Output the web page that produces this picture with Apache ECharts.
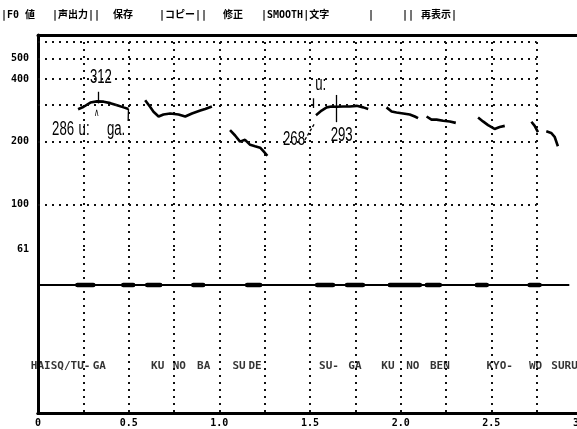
<!DOCTYPE html>
<html><head><meta charset="utf-8">
<script src="https://cdn.jsdelivr.net/npm/echarts@6/dist/echarts.min.js"></script>
<style>html,body{margin:0;padding:0;background:#fff}#c{width:577px;height:429px}</style>
</head><body><div id="c"></div>
<script>
// ---- data ----
const yTickValues = [500, 400, 200, 100, 61];          // F0 axis labels (Hz)
const yGridValues = [600, 500, 400, 300, 200, 100];    // dotted F0 grid rows (Hz)
const xTickValues = [0, 0.5, 1.0, 1.5, 2.0, 2.5, 3.0]; // time labels (s)
const f0Times = [
  [0.221,0.252,0.289,0.325,0.362,0.399,0.436,0.472,0.499],
  [0.591,0.619,0.637,0.665,0.692,0.729,0.775,0.812,0.849,0.895,0.922,0.959],
  [1.059,1.087,1.114,1.142,1.170,1.197,1.225,1.243,1.265],
  [1.533,1.564,1.592,1.619,1.647,1.683,1.720,1.757,1.794,1.821],
  [1.922,1.950,1.977,2.014,2.050,2.078,2.096],
  [2.143,2.170,2.198,2.234,2.271,2.304],
  [2.427,2.454,2.482,2.518,2.546,2.574],
  [2.721,2.739,2.757],
  [2.803,2.830,2.849,2.867]
];
const f0Hz = [
  [286,294,308,312,311,306,299,292,287],
  [316,293,278,264,270,273,270,264,273,282,287,295],
  [227,214,200,204,193,190,187,180,171],
  [268,282,292,295,294,295,295,297,292,287],
  [292,279,276,273,270,264,259],
  [264,255,255,252,250,246],
  [261,250,240,230,235,238],
  [249,238,222],
  [224,220,211,190]
];
const powerSpan = [0.01, 2.93];     // extent of the power trace (s)
const powerLevel = 0.78;            // relative level of the power trace
const powerBursts = [[0.217,0.305],[0.470,0.525],[0.602,0.674],[0.856,0.911],[1.153,1.225],
  [1.539,1.627],[1.704,1.792],[1.940,2.106],[2.144,2.216],[2.420,2.475],[2.711,2.766]];
const syllables = ['HAISQ/TU-','GA','KU','NO','BA','SU','DE','SU-','GA','KU','NO','BEN','KYO-','WO','SURU'];
const syllableTimes = [0.125,0.338,0.660,0.779,0.914,1.109,1.197,1.605,1.748,1.930,2.067,2.216,2.546,2.744,2.904];
const syllableLevel = 0.287;

// ---- build ----
const mono = '"DejaVu Sans Mono", "Noto Sans CJK JP", monospace';
const dotted = {type:[2,5], width:2, color:'#111', opacity:1};

const f0Data = [];
f0Times.forEach((seg, i) => {
  seg.forEach((t, j) => f0Data.push([t, f0Hz[i][j]]));
  f0Data.push([null, null]);
});

const burstData = [];
powerBursts.forEach(b => { burstData.push([b[0], powerLevel]); burstData.push([b[1], powerLevel]); burstData.push([null, null]); });

const annotations = [
  {text:'312', at:[0.325,312], off:[4,-24], size:20},
  {text:'∧',   at:[0.325,312], off:[0,12], size:11},
  {text:'286', at:[0.221,286], off:[-15,20], size:20},
  {text:'u:',  at:[0.221,286], off:[6,20], size:20},
  {text:'ga.', at:[0.221,286], off:[38,20], size:20},
  {text:'u:',  at:[1.592,292], off:[-6,-23], size:20},
  {text:'268', at:[1.533,268], off:[-22,24], size:20},
  {text:'293', at:[1.647,294], off:[5,29], size:20}
];
const strokes = [
  [[0.334,347],[0.334,305]],
  [[1.647,335],[1.647,248]],
  [[1.518,323],[1.518,290]],
  [[0.499,287],[0.497,251]]
];

const chart = echarts.init(document.getElementById('c'));
const axisLineStyle = {color:'#000', width:3};
const menu = [
  {type:'text', left:1, top:10, style:{text:'|F0 値', font:'bold 10px ' + mono, fill:'#000'}},
  {type:'text', left:52, top:10, style:{text:'|声出力||', font:'bold 10px ' + mono, fill:'#000'}},
  {type:'text', left:113, top:10, style:{text:'保存', font:'bold 10px ' + mono, fill:'#000'}},
  {type:'text', left:159, top:10, style:{text:'|コピー||', font:'bold 10px ' + mono, fill:'#000'}},
  {type:'text', left:223, top:10, style:{text:'修正', font:'bold 10px ' + mono, fill:'#000'}},
  {type:'text', left:261, top:10, style:{text:'|SMOOTH|文字', font:'bold 10px ' + mono, fill:'#000'}},
  {type:'text', left:368, top:10, style:{text:'|', font:'bold 10px ' + mono, fill:'#000'}},
  {type:'text', left:402, top:10, style:{text:'||', font:'bold 10px ' + mono, fill:'#000'}},
  {type:'text', left:421, top:10, style:{text:'再表示|', font:'bold 10px ' + mono, fill:'#000'}}
];
chart.setOption({
  animation:false,
  backgroundColor:'#fff',
  grid:[
    {left:38, right:-5, top:35, height:214, containLabel:false, outerBoundsMode:'none'},
    {left:38, right:-5, top:249, height:164, containLabel:false, outerBoundsMode:'none'}
  ],
  xAxis:[
    {gridIndex:0, type:'value', position:'top', min:0, max:3, interval:0.25,
     axisLine:{show:true, lineStyle:axisLineStyle}, axisTick:{show:false}, axisLabel:{show:false},
     splitLine:{show:true, lineStyle:dotted}},
    {gridIndex:1, type:'value', position:'top', min:0, max:3, interval:0.25,
     axisLine:{show:true, lineStyle:axisLineStyle}, axisTick:{show:false}, axisLabel:{show:false}, splitLine:{show:false}},
    {gridIndex:1, type:'value', position:'bottom', min:0, max:3, interval:0.25,
     axisLine:{show:true, lineStyle:axisLineStyle}, axisTick:{show:false},
     axisLabel:{customValues:xTickValues, margin:5, color:'#000', fontFamily:mono, fontWeight:'bold', fontSize:10,
       formatter: v => v === 0 ? '0' : v.toFixed(1)},
     splitLine:{show:true, lineStyle:dotted}}
  ],
  yAxis:[
    {gridIndex:0, type:'log', logBase:10, min:61, max:650,
     axisLine:{show:true, lineStyle:axisLineStyle}, axisTick:{show:false},
     axisLabel:{customValues:yTickValues, margin:9, color:'#000', fontFamily:mono, fontWeight:'bold', fontSize:10,
       formatter: v => String(Math.round(v))},
     splitLine:{show:false}},
    {gridIndex:1, type:'value', min:0, max:1,
     axisLine:{show:true, lineStyle:axisLineStyle}, axisTick:{show:false}, axisLabel:{show:false}, splitLine:{show:false}}
  ],
  graphic: menu,
  series:[
    {type:'line', xAxisIndex:0, yAxisIndex:0, data:f0Data, symbol:'none', connectNulls:false,
     lineStyle:{color:'#000', width:2.6}, silent:true,
     markLine:{silent:true, symbol:'none', label:{show:false}, lineStyle:dotted,
       data: yGridValues.map(v => [{coord:[0, v]}, {coord:[2.75, v]}])}},
    {type:'scatter', xAxisIndex:0, yAxisIndex:0, symbolSize:0, silent:true, data:[],
     markLine:{silent:true, symbol:'none', label:{show:false}, lineStyle:{color:'#000', width:1.3, type:'solid'},
       data: strokes.map(s => [{coord:s[0]}, {coord:s[1]}]).concat([
         [{coord:[1.472,204], lineStyle:{type:[3,2]}}, {coord:[1.527,246]}]
       ])}},
    {type:'line', xAxisIndex:2, yAxisIndex:1, symbol:'none', silent:true,
     data:[[powerSpan[0], powerLevel],[powerSpan[1], powerLevel]], lineStyle:{color:'#000', width:2}},
    {type:'line', xAxisIndex:2, yAxisIndex:1, symbol:'none', silent:true, connectNulls:false,
     data:burstData, lineStyle:{color:'#000', width:4.5, cap:'round'}},
    {type:'scatter', xAxisIndex:2, yAxisIndex:1, symbolSize:0, silent:true,
     data: syllables.map((s, i) => ({value:[syllableTimes[i], syllableLevel], name:s})),
     label:{show:true, position:'inside', formatter:'{b}', color:'#000', fontFamily:mono, fontWeight:'bold', fontSize:11}}
  ]
});
// annotation texts placed at their contour points via the chart's own scales
const annoGraphics = annotations.map(a => {
  const p = chart.convertToPixel({xAxisIndex:0, yAxisIndex:0}, a.at);
  return {type:'text', x:p[0] + a.off[0], y:p[1] + a.off[1], scaleX:0.66, silent:true,
    style:{text:a.text, x:0, y:0, align:'center', verticalAlign:'middle',
      font:'normal ' + a.size + 'px "Liberation Sans", sans-serif', fill:'#000'}};
});
chart.setOption({graphic: menu.concat(annoGraphics)});
</script>
</body></html>
